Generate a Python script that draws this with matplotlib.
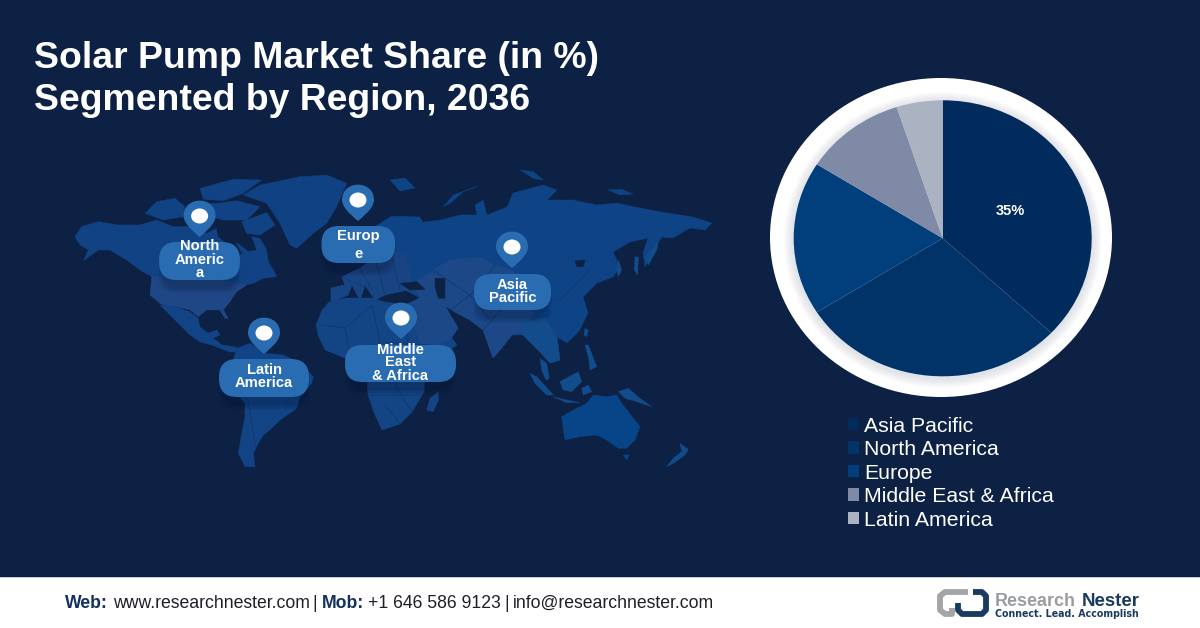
import numpy as np
import matplotlib
matplotlib.use("Agg")
import matplotlib.pyplot as plt
from matplotlib.patches import Polygon, Ellipse, FancyBboxPatch, Rectangle, PathPatch
from matplotlib.path import Path

plt.rcParams['font.family'] = ['Liberation Sans', 'DejaVu Sans']

# ---- chart data ----
regions = ["Asia Pacific", "North America", "Europe", "Middle East & Africa", "Latin America"]
shares = [37, 29, 18, 11, 5]
shown_labels = ["35%", "", "", "", ""]
slice_colors = ["#012b5c", "#013369", "#013e7c", "#7f8ba6", "#abb2c2"]

title_lines = ["Solar Pump Market Share (in %)", "Segmented by Region, 2036"]

BG = "#0d2144"
CANADA = "#114384"; USA = "#204785"; LAT = "#124384"; AFR = "#134484"; RUS = "#0e4385"
CAS = "#1c4887"; EUR = "#194483"; AUS = "#074588"; SEA = "#134c8a"

LABEL = "#2a6cb1"

def z4(p): return [(60 + x / 3, 170 + y / 3) for x, y in p]
def z5(p): return [(200 + x / 3, 320 + y / 3) for x, y in p]
def z6(p): return [(400 + x / 3, 170 + y / 3) for x, y in p]
def z7(p): return [(440 + x / 3, 320 + y / 3) for x, y in p]

map_shapes = [
    # Canada + Alaska
    (CANADA, z4([(45,200),(65,170),(115,155),(175,165),(240,165),(290,150),(340,170),(390,170),(440,190),(470,175),
                 (500,190),(520,215),(540,225),(565,245),(590,240),(575,200),(600,205),(620,240),(625,275),(640,300),
                 (650,320),(610,325),(580,340),(555,345),(500,335),(470,320),(275,320),(240,300),(200,270),(150,240),
                 (115,240),(70,272),(85,240),(60,225)])),
    # USA
    (USA, z4([(275,320),(470,320),(500,335),(560,345),(530,365),(510,395),(490,420),(505,445),(495,445),(480,420),
              (440,420),(415,440),(390,420),(350,410),(320,410),(300,400),(270,375)])),
    # Hudson bay (water)
    (BG, z4([(470,178),(500,165),(540,178),(522,210),(545,250),(530,262),(505,225),(475,200)])),
    # Arctic islands
    (CANADA, z4([(255,130),(290,95),(345,85),(375,110),(370,140),(310,150)])),
    (CANADA, z4([(420,55),(520,28),(605,30),(550,70),(490,92),(430,88)])),
    (CANADA, z4([(400,100),(470,100),(530,92),(600,110),(560,150),(490,150),(430,135)])),
    (CANADA, z4([(545,155),(620,128),(645,165),(600,195),(560,190)])),
    # Greenland
    ("#104182", z4([(550,75),(600,45),(720,20),(800,15),(860,40),(830,110),(800,160),(760,190),(710,235),(690,225),(660,160),(620,100)])),
    # Mexico / Central America
    (LAT, [(160,305),(177,307),(190,312),(198,318),(200,327),(208,333),(217,330),(220,335),(213,338),(222,345),
           (236,347),(240,352),(230,352),(222,349),(212,345),(200,342),(190,335),(180,325),(170,315)]),
    # South America
    (LAT, z5([(110,85),(150,70),(200,100),(250,105),(300,130),(340,170),(335,190),(300,230),(290,265),(240,300),
              (210,330),(190,345),(175,370),(160,400),(165,440),(135,440),(115,400),(125,340),(135,290),(135,250),
              (105,215),(90,170),(100,120)])),
    # Africa
    (AFR, [(329,302),(345,298),(372,298),(385,302),(407,305),(430,305),(440,322),(457,345),(450,350),(435,362),(425,372),
           (424,392),(412,412),(400,424),(382,430),(375,415),(368,395),(367,380),(360,365),(345,358),(325,350),(318,335),
           (316,325),(322,310)]),
    (AFR, z5([(680,270),(690,235),(715,215),(715,240),(700,275)])),
    # Eurasia
    (RUS, [(331,288),(345,285),(342,277),(360,268),(375,258),(390,250),(400,230),(417,223),(440,220),(460,215),(477,215),(475,205),
           (483,200),(487,215),(507,207),(513,193),(543,185),(557,190),(547,200),(573,200),(597,205),(617,203),
           (640,208),(667,213),(693,217),(712,223),(705,230),(690,228),(673,238),(662,237),(653,250),(645,267),
           (643,253),(648,238),(630,242),(613,252),(620,267),(613,277),(597,283),(583,297),(588,313),(580,330),
           (567,343),(557,337),(560,360),(550,363),(540,352),(530,342),(523,335),(512,335),(500,350),(493,358),
           (483,330),(470,320),(455,312),(445,306),(458,328),(450,340),(423,350),(412,320),(405,305),(420,298),
           (405,290),(385,295),(375,300),(365,285),(360,300),(352,285),(348,295),(331,302)]),
    # Europe shade
    (EUR, [(331,288),(345,285),(342,277),(360,268),(375,258),(390,250),(405,255),(412,272),(408,290),(385,295),(375,300),
           (365,285),(360,300),(352,285),(348,295),(331,302)]),
    # Central Asia / Middle East / India shade
    (CAS, [(433,270),(450,260),(480,257),(495,265),(512,270),(530,290),(535,310),(523,332),(512,335),(500,350),(493,358),
           (483,330),(470,320),(455,312),(445,306),(458,328),(450,340),(423,350),(412,320),(405,305),(420,298),(412,285)]),
    # South East Asia shade
    (SEA, [(523,322),(545,318),(557,337),(560,360),(550,363),(540,352),(530,342),(523,335)]),
    # Scandinavia, Arctic Eurasia
    (RUS, [(374,227),(392,216),(420,217),(425,226),(410,228),(400,245),(388,250),(375,240)]),
    (RUS, z6([(130,110),(160,75),(230,50),(190,65),(150,100)])),
    (RUS, z6([(360,0),(400,5),(430,30),(400,25)])),
    (RUS, z6([(625,60),(665,58),(700,72),(660,75)])),
    (RUS, [(390,180),(405,178),(415,188),(400,191)]),
    # Water bodies
    (BG, z6([(105,325),(135,325),(135,385),(115,385),(105,350)])),
    (BG, z6([(0,340),(50,335),(75,358),(30,360)])),
    (BG, z6([(525,272),(555,270),(550,290),(530,290)])),
    # Islands of Asia-Pacific
    (SEA, z7([(270,160),(290,170),(340,225),(320,225),(285,190)])),
    (SEA, z7([(340,230),(380,240),(420,248),(380,248)])),
    (SEA, z7([(360,185),(415,155),(425,185),(395,215),(370,210)])),
    (SEA, z7([(425,205),(445,195),(455,215),(430,225)])),
    (SEA, z7([(535,215),(565,205),(600,235),(635,260),(590,245),(555,235)])),
    (SEA, z7([(435,75),(445,75),(470,140),(450,150),(445,110)])),
    (SEA, z7([(300,115),(320,130),(328,175),(318,180),(305,150)])),
    (SEA, z7([(435,25),(445,30),(440,50),(432,45)])),
    (SEA, z6([(705,260),(715,262),(713,315),(703,300)])),
    (SEA, z6([(655,270),(665,300),(655,320),(650,295)])),
    (SEA, z6([(735,260),(775,215),(770,240),(745,285)])),
    # Australia & NZ
    (AUS, z7([(365,290),(400,270),(440,250),(460,225),(500,230),(530,225),(545,250),(600,320),(585,360),(560,385),
              (535,385),(500,360),(470,345),(420,350),(375,360)])),
    (AUS, z7([(550,405),(568,405),(560,420)])),
    ("#124a8c", z7([(720,370),(745,388),(735,405),(700,430),(680,440),(700,415),(725,395)])),
]

borders = [
    [(322,325),(345,328),(372,305)], [(345,328),(350,355)], [(372,305),(380,342),(368,378)], [(407,305),(408,340),(395,385),(412,412)],
    [(380,342),(430,345)], [(370,395),(420,395)], [(385,405),(400,424)],
    [(342,277),(370,290)], [(360,268),(372,290)], [(375,258),(385,295)], [(390,250),(400,290)],
    [(433,270),(470,295),(495,265)], [(450,310),(470,295),(490,320)], [(483,330),(510,300)],
    [(250,372),(290,405)], [(248,400),(256,450)], [(515,300),(560,300),(590,270)],
]

pins = [("North\nAmeric\na", 199.6, 216, (159,242,240,280), [246,259.5,273]),
        ("Europ\ne", 358, 200, (321.5,226,395,263), [236,254.5]),
        ("Asia\nPacific", 512, 247, (474,274,551,310), [285,298]),
        ("Latin\nAmerica", 264, 333, (219,359,309,397), [370,383]),
        ("Middle\nEast\n& Africa", 401, 318, (345,345,456,382), [349.5,362.5,375.5])]

fig = plt.figure(figsize=(12, 6.28), dpi=100, facecolor=BG)
ov = fig.add_axes([0, 0, 1, 1])
ov.set_xlim(0, 1200); ov.set_ylim(628, 0); ov.axis("off")

# world map
for col, pts in map_shapes:
    ov.add_patch(Polygon(pts, closed=True, fc=col, ec=col, lw=0.3, zorder=1))
for line in borders:
    xs, ys = zip(*line)
    ov.plot(xs, ys, color="#0e3670", lw=0.5, zorder=1.5)

# pins & labels
for name, cx, cy, (x0, y0, x1, y1), ys in pins:
    h = y1 - y0
    for k in range(6):
        ov.add_patch(FancyBboxPatch((x0 + 4 - k, y0 + 12 - k), x1 - x0 - 8 + 2 * k, h - 4 + 2 * k,
                                    boxstyle=f"round,pad=0,rounding_size={h/2 - 2:.1f}",
                                    fc="#081a38", ec="none", alpha=0.06, zorder=2))
    ov.add_patch(FancyBboxPatch((x0, y0), x1 - x0, h, boxstyle=f"round,pad=0,rounding_size={h/2 - 1:.1f}",
                                fc=LABEL, ec="none", zorder=3))
    r = 16
    top = Path([(cx - r, cy), (cx - r, cy - 20.5), (cx + r, cy - 20.5), (cx + r, cy),
                (cx + r, cy + 9), (cx + 2, cy + 19), (cx, cy + 21),
                (cx - 2, cy + 19), (cx - r, cy + 9), (cx - r, cy)],
               [Path.MOVETO, Path.CURVE4, Path.CURVE4, Path.CURVE4,
                Path.CURVE4, Path.CURVE4, Path.CURVE4, Path.CURVE4, Path.CURVE4, Path.CURVE4])
    ov.add_patch(PathPatch(top, fc=LABEL, ec="none", zorder=4))
    ov.add_patch(Ellipse((cx, cy), 17, 15, fc="white", ec="none", zorder=5))
    for line, y in zip(name.split("\n"), ys):
        ov.text((x0 + x1) / 2, y, line, color="white", fontsize=10.6, fontweight="bold",
                ha="center", va="center", zorder=6)

# titles
ov.text(34, 68, title_lines[0], color="white", fontsize=26.9, fontweight="bold", va="baseline", ha="left")
ov.text(34, 110, title_lines[1], color="white", fontsize=26.9, fontweight="bold", va="baseline", ha="left")

# ring around the pie
ov.add_patch(Ellipse((941, 237.5), 342, 319, fc="white", ec="none", zorder=2))
for k in range(8):
    ov.add_patch(Ellipse((942.7, 240), 298 + 20 - 2.5 * k, 276 + 20 - 2.5 * k, fc="#4a5670", ec="none", alpha=0.018, zorder=2.1))

# footer
ov.add_patch(Rectangle((0, 576), 1200, 52, fc="white", ec="none", zorder=2))
ov.plot([0, 1200], [576, 576], color="#0a1c3d", lw=1, zorder=2.2)
NAVY = "#14315f"; INK = "#1d2026"
foot = [("Web:", 65, NAVY, "bold"), ("www.researchnester.com", 113, INK, "normal"), ("|", 312, INK, "normal"),
        ("Mob:", 322, NAVY, "bold"), ("+1 646 586 9123", 368, INK, "normal"), ("|", 504, INK, "normal"),
        ("info@researchnester.com", 513, INK, "normal")]
for s, x, c, w in foot:
    ov.text(x, 607.5, s, color=c, fontsize=12.7, fontweight=w, va="baseline", ha="left", zorder=3)

# logo
GR = "#a3a5a7"; NV = "#1a3a60"
ov.plot([968, 945, 940, 940, 945, 952, 952], [592, 592, 596, 610, 614, 614, 608], color=GR, lw=4.2, zorder=3, solid_capstyle="butt")
ov.plot([973, 982, 986, 986, 982, 962, 958, 958], [592, 592, 596, 610, 614, 614, 610, 603], color=NV, lw=4.2, zorder=3, solid_capstyle="butt")
ov.text(995, 606, "Research", color="#9a9da0", fontsize=12.9, fontweight="bold", va="baseline", ha="left", zorder=3)
ov.text(1082, 606, "Nester", color=NV, fontsize=13.4, fontweight="bold", va="baseline", ha="left", zorder=3)
ov.text(995, 617, "Connect. Lead. Accomplish", color=NV, fontsize=6.85, fontweight="bold", family="DejaVu Sans", va="baseline", ha="left", zorder=3)

# pie
cx, cy, rx, ry = 942.7, 238.3, 149, 138
w_px, h_px = 2.5 * rx, 2.5 * ry
ax = fig.add_axes([(cx - w_px / 2) / 1200, (628 - cy - h_px / 2) / 628, w_px / 1200, h_px / 628])
ax.patch.set_alpha(0)
wedges, _ = ax.pie(shares, colors=slice_colors, startangle=90, counterclock=False,
                   wedgeprops=dict(linewidth=0))
ax.set_aspect("auto")
ax.set_xlim(-1.25, 1.25); ax.set_ylim(-1.25, 1.25)
total = float(sum(shares)); start = 0.0
for v, lab in zip(shares, shown_labels):
    mid = (start + v / 2) / total * 2 * np.pi
    start += v
    if lab:
        ax.text(0.5 * np.sin(mid) - 0.005, 0.5 * np.cos(mid), lab, color="white", fontsize=10.5,
                fontweight="bold", ha="center", va="center")

leg = fig.legend(wedges, regions, loc="upper left", bbox_to_anchor=(848 / 1200, 1 - 416.5 / 628),
                 frameon=False, fontsize=15.3, labelcolor="white", borderpad=0, borderaxespad=0,
                 handlelength=0.52, handleheight=0.52, handletextpad=0.25, labelspacing=0.215)
for h in leg.legend_handles:
    h.set_linewidth(0)

fig.savefig("out.png", dpi=100, facecolor=BG)
